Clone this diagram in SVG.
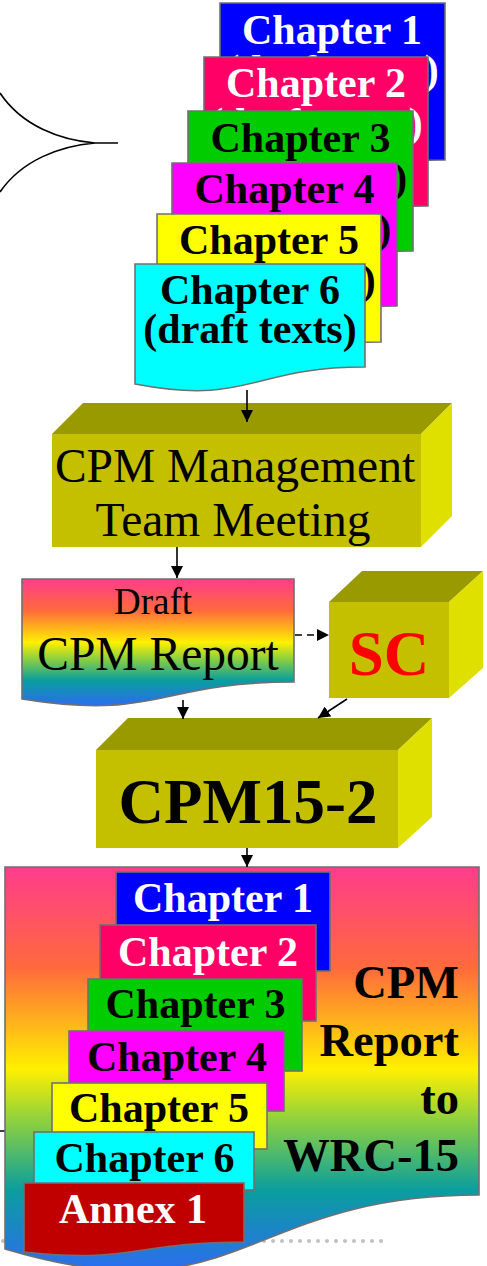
<svg xmlns="http://www.w3.org/2000/svg" width="487" height="1266" viewBox="0 0 487 1266">
<defs>
<style>
.doc{stroke:#707070;stroke-width:1.6}
.cb{font-family:"Liberation Serif","Times New Roman",serif;font-weight:bold;font-size:42px;text-anchor:middle}
.rg{font-family:"Liberation Serif","Times New Roman",serif;text-anchor:middle}
.w{fill:#fff}
.k{fill:#000}
.front{fill:#C4C000}
.top{fill:#999900}
.side{fill:#E0E000}
.conn{stroke:#000;stroke-width:1.6;fill:none}
</style>
<linearGradient id="rainbow" x1="0" y1="0" x2="0" y2="1">
<stop offset="0" stop-color="#FF3C8C"/>
<stop offset="0.25" stop-color="#FF6A3C"/>
<stop offset="0.5" stop-color="#FFF000"/>
<stop offset="0.63" stop-color="#8CD040"/>
<stop offset="0.8" stop-color="#0A9E9E"/>
<stop offset="1" stop-color="#2C6CF0"/>
</linearGradient>
<marker id="arr" markerWidth="12" markerHeight="12" viewBox="0 0 12 12" refX="12" refY="6" orient="auto" markerUnits="userSpaceOnUse">
<path d="M0,0 L12,6 L0,12 Z" fill="#000"/>
</marker>
</defs>

<!-- footer dotted line -->
<line x1="3" y1="1241" x2="390" y2="1241" stroke="#C0C0C0" stroke-width="4" stroke-linecap="round" stroke-dasharray="0 9"/>
<line x1="0" y1="1131" x2="9" y2="1131" stroke="#000" stroke-width="1.5"/>

<!-- brace -->
<g id="brace">
<path d="M0,93 C22,126 60,140 95,143 L118,143 M95,143 C60,146 22,160 0,192" stroke="#000" stroke-width="1.6" fill="none"/>
</g>

<!-- top chapter stack -->
<g id="ch1">
<path class="doc" fill="#0000FF" d="M220,3 H445 V160 C332,160 332,205 220,180 Z"/>
<text class="cb w" x="332" y="44">Chapter 1</text>
<text class="cb w" x="332" y="84">(draft texts)</text>
</g>
<g id="ch2">
<path class="doc" fill="#FF0066" d="M204,57 H428 V206 C316,206 316,251 204,226 Z"/>
<text class="cb w" x="316" y="97">Chapter 2</text>
<text class="cb w" x="316" y="137">(draft texts)</text>
</g>
<g id="ch3">
<path class="doc" fill="#00CC00" d="M188,111 H413 V251 C300,251 300,296 188,271 Z"/>
<text class="cb k" x="300.5" y="152">Chapter 3</text>
<text class="cb k" x="300.5" y="192">(draft texts)</text>
</g>
<g id="ch4">
<path class="doc" fill="#FF00FF" d="M172,163 H397 V306 C284,306 284,351 172,326 Z"/>
<text class="cb k" x="284.5" y="203">Chapter 4</text>
<text class="cb k" x="284.5" y="243">(draft texts)</text>
</g>
<g id="ch5">
<path class="doc" fill="#FFFF00" d="M157,214 H381 V342 C269,342 269,387 157,362 Z"/>
<text class="cb k" x="269" y="254">Chapter 5</text>
<text class="cb k" x="269" y="294">(draft texts)</text>
</g>
<g id="ch6">
<path class="doc" fill="#00FFFF" d="M135,264 H365 V367 C250,367 250,406 135,384 Z"/>
<text class="cb k" x="250" y="304">Chapter 6</text>
<text class="cb k" x="250" y="343">(draft texts)</text>
</g>

<!-- CPM Management Team Meeting -->
<g id="mgmt">
<polygon class="top" points="52,434 83,403 452,403 421,434"/>
<polygon class="side" points="421,434 452,403 452,516 421,547"/>
<rect class="front" x="52" y="434" width="369" height="113"/>
<text class="rg k" x="235" y="482" font-size="47.5">CPM Management</text>
<text class="rg k" x="233" y="536" font-size="47.5">Team Meeting</text>
</g>

<!-- Draft CPM Report -->
<g id="draft">
<path class="doc" fill="url(#rainbow)" d="M22,579 H294 V682 C158,682 158,721 22,699 Z"/>
<text class="rg k" x="153" y="614" font-size="37">Draft</text>
<text class="rg k" x="158" y="670" font-size="47.5">CPM Report</text>
</g>

<!-- SC -->
<g id="sc">
<polygon class="top" points="329,602 362,571 483,571 449,602"/>
<polygon class="side" points="449,602 483,571 483,668 449,698"/>
<rect class="front" x="329" y="602" width="120" height="96"/>
<text x="389" y="675" font-family="Liberation Serif,Times New Roman,serif" font-weight="bold" font-size="63" fill="#FF0000" text-anchor="middle">SC</text>
</g>

<!-- CPM15-2 -->
<g id="cpm152">
<polygon class="top" points="96,750 128,718 432,718 398,750"/>
<polygon class="side" points="398,750 432,718 432,817 398,848"/>
<rect class="front" x="96" y="750" width="302" height="98"/>
<text x="248" y="823" font-family="Liberation Serif,Times New Roman,serif" font-weight="bold" font-size="63" fill="#000" text-anchor="middle">CPM15-2</text>
</g>

<!-- Final CPM Report to WRC-15 -->
<g id="final">
<path class="doc" fill="url(#rainbow)" d="M5,867 H479 V1195 C242,1195 242,1320 5,1249 Z"/>
<g font-family="Liberation Serif,Times New Roman,serif" font-weight="bold" font-size="46.5" text-anchor="end" fill="#000">
<text x="459" y="998">CPM</text>
<text x="459" y="1056">Report</text>
<text x="459" y="1114">to</text>
<text x="459" y="1171">WRC-15</text>
</g>
</g>
<g id="f-ch1">
<rect class="doc" fill="#0000FF" x="116" y="872" width="214" height="99"/>
<text class="cb w" x="223" y="912">Chapter 1</text>
</g>
<g id="f-ch2">
<rect class="doc" fill="#FF0066" x="100" y="925" width="216" height="96"/>
<text class="cb w" x="208" y="966">Chapter 2</text>
</g>
<g id="f-ch3">
<rect class="doc" fill="#00CC00" x="88" y="979" width="214" height="92"/>
<text class="cb k" x="195.5" y="1018">Chapter 3</text>
</g>
<g id="f-ch4">
<rect class="doc" fill="#FF00FF" x="69" y="1031" width="215" height="80"/>
<text class="cb k" x="177" y="1071">Chapter 4</text>
</g>
<g id="f-ch5">
<rect class="doc" fill="#FFFF00" x="52" y="1083" width="215" height="66"/>
<text class="cb k" x="159" y="1122">Chapter 5</text>
</g>
<g id="f-ch6">
<rect class="doc" fill="#00FFFF" x="34" y="1132" width="220" height="58"/>
<text class="cb k" x="144.5" y="1172">Chapter 6</text>
</g>
<g id="annex1">
<path class="doc" fill="#C00000" d="M24,1183 H244 V1242 C134,1242 134,1264 24,1252 Z"/>
<text class="cb w" x="133" y="1223">Annex 1</text>
</g>

<!-- connectors -->
<g id="connectors">
<line class="conn" x1="247" y1="390" x2="247" y2="422" marker-end="url(#arr)"/>
<line class="conn" x1="177" y1="547" x2="177" y2="578" marker-end="url(#arr)"/>
<line class="conn" x1="295" y1="635" x2="329" y2="635" stroke-dasharray="7 5" marker-end="url(#arr)"/>
<line class="conn" x1="183" y1="700" x2="183" y2="719" marker-end="url(#arr)"/>
<line class="conn" x1="347" y1="699" x2="318" y2="718" marker-end="url(#arr)"/>
<line class="conn" x1="247" y1="848" x2="247" y2="867" marker-end="url(#arr)"/>
</g>
</svg>
